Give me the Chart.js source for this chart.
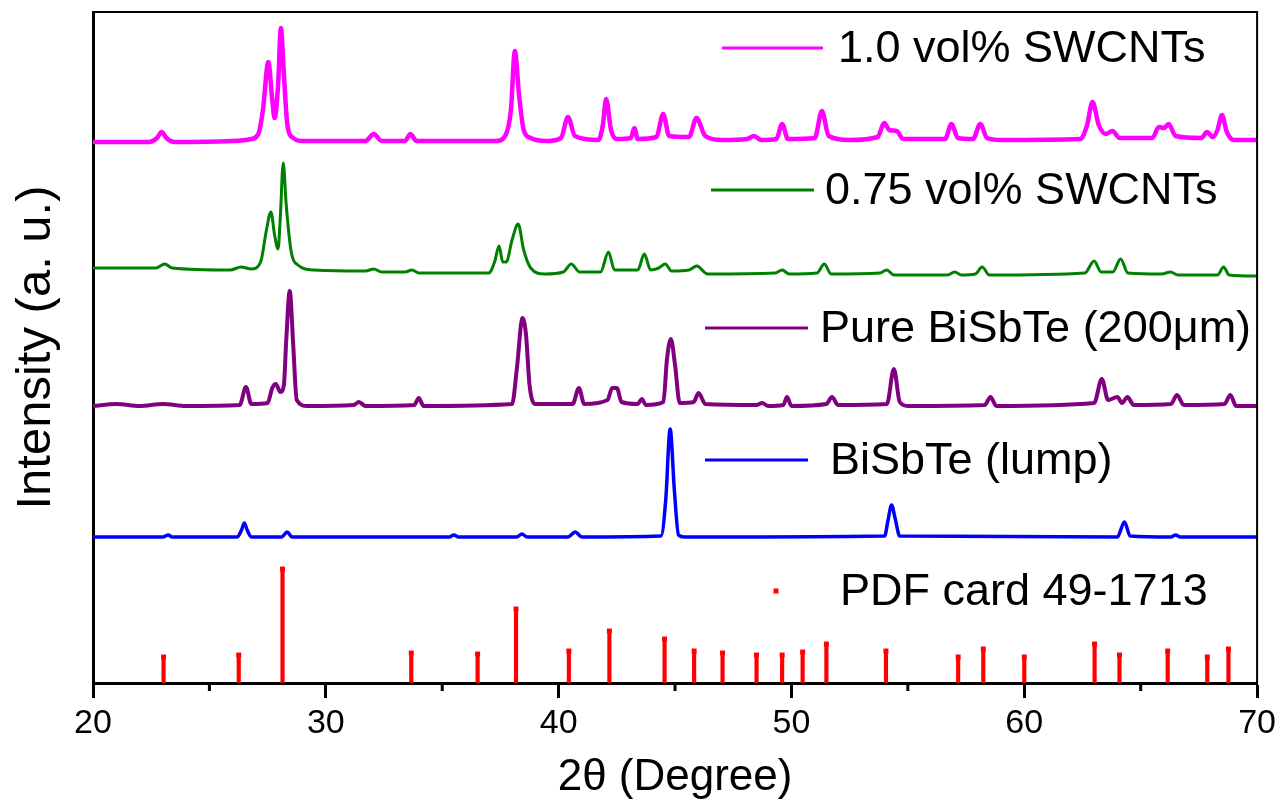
<!DOCTYPE html>
<html lang="en">
<head>
    <meta charset="UTF-8">
    <title>XRD patterns</title>
    <style>
        body {
            margin: 0;
            padding: 0;
            background: #fff;
        }
        #wrap {
            width: 1285px;
            height: 803px;
        }
    </style>
</head>
<body>
    <div id="wrap"><canvas id="xrd" width="1285" height="803"></canvas></div>
    <script src="https://cdn.jsdelivr.net/npm/chart.js"></script>
    <script>
        // 2theta (deg), intensity (a.u., stacked offsets as in the figure)
        const swcnt10 = [
            [20.0, 541], [22.4, 541], [22.75, 545], [22.95, 551], [23.15, 545], [23.5, 541],
            [26.0, 542], [26.8, 544], [27.1, 549], [27.3, 573], [27.53, 621], [27.7, 583],
            [27.8, 565], [27.95, 598], [28.07, 655], [28.2, 608], [28.35, 558], [28.6, 545],
            [29.0, 542], [31.7, 542], [32.06, 549], [32.4, 542], [33.4, 542], [33.63, 549],
            [33.9, 542], [37.3, 542], [37.7, 547], [37.95, 573], [38.12, 632], [38.3, 588],
            [38.5, 553], [38.8, 545], [39.5, 542], [40.1, 545], [40.4, 566], [40.7, 547],
            [41.7, 543], [41.9, 558], [42.04, 584], [42.25, 553], [42.5, 544], [43.1, 545],
            [43.25, 555], [43.4, 544], [44.2, 546], [44.49, 569], [44.75, 547], [45.6, 546],
            [45.92, 565], [46.3, 547], [47.0, 543], [48.1, 544], [48.39, 547], [48.7, 543],
            [49.35, 544], [49.6, 559], [49.85, 544], [51.0, 545], [51.31, 572], [51.6, 547],
            [52.5, 543], [53.7, 546], [53.99, 560], [54.2, 553], [54.52, 552], [54.8, 544],
            [56.6, 544], [56.87, 559], [57.15, 545], [57.8, 544], [58.11, 559], [58.4, 545],
            [59.0, 543], [62.4, 544], [62.7, 558], [62.93, 581], [63.2, 558], [63.5, 549],
            [63.78, 552], [64.1, 545], [65.5, 545], [65.78, 556], [66.0, 555], [66.2, 559],
            [66.5, 547], [67.6, 545], [67.85, 551], [68.1, 546], [68.3, 553], [68.49, 568],
            [68.7, 551], [69.0, 543], [70.0, 543]
        ];
        const swcnt075 = [
            [20.0, 415], [22.7, 415], [23.08, 419], [23.4, 415], [25.9, 413], [26.36, 416],
            [26.8, 414], [27.2, 421], [27.45, 453], [27.64, 471], [27.8, 448], [27.95, 434],
            [28.05, 468], [28.17, 520], [28.3, 478], [28.5, 433], [28.8, 418], [29.5, 413],
            [31.7, 412], [32.06, 414], [32.4, 411], [33.4, 411], [33.7, 413], [34.0, 410],
            [37.0, 410], [37.25, 421], [37.44, 437], [37.6, 421], [37.75, 421], [38.0, 443],
            [38.26, 459], [38.5, 433], [38.8, 415], [39.4, 409], [40.2, 411], [40.54, 419],
            [40.9, 411], [41.8, 411], [42.14, 431], [42.4, 413], [43.4, 413], [43.68, 429],
            [43.95, 413], [44.3, 415], [44.58, 419], [44.85, 412], [45.6, 413], [45.93, 417],
            [46.4, 409], [49.3, 410], [49.6, 413], [49.9, 409], [51.1, 410], [51.41, 419],
            [51.7, 409], [53.8, 410], [54.09, 413], [54.4, 408], [56.7, 408], [57.01, 411],
            [57.3, 408], [57.9, 409], [58.19, 416], [58.5, 408], [62.6, 410], [63.0, 422],
            [63.3, 411], [63.8, 411], [64.14, 424], [64.45, 410], [65.9, 409], [66.28, 411],
            [66.6, 408], [68.3, 408], [68.56, 416], [68.8, 408], [70.0, 407]
        ];
        const pure200 = [
            [20.0, 277], [21.0, 279], [22.0, 277], [23.0, 279], [24.0, 277], [26.3, 278],
            [26.57, 296], [26.8, 279], [27.5, 280], [27.7, 295], [27.85, 299], [28.05, 291],
            [28.2, 298], [28.3, 343], [28.45, 392], [28.6, 338], [28.75, 283], [29.2, 277],
            [31.2, 278], [31.42, 281], [31.7, 277], [33.8, 278], [33.99, 285], [34.2, 277],
            [38.0, 279], [38.2, 313], [38.45, 365], [38.6, 348], [38.75, 298], [39.0, 279],
            [40.6, 279], [40.87, 295], [41.1, 279], [42.1, 283], [42.3, 295], [42.5, 295],
            [42.7, 281], [43.4, 279], [43.57, 284], [43.75, 278], [44.5, 281], [44.65, 323],
            [44.82, 344], [45.0, 318], [45.2, 280], [45.8, 281], [46.01, 290], [46.3, 279],
            [48.5, 278], [48.74, 280], [49.0, 277], [49.65, 278], [49.81, 286], [50.0, 277],
            [51.5, 279], [51.74, 286], [52.0, 278], [54.1, 279], [54.4, 314], [54.65, 281],
            [55.0, 277], [58.3, 278], [58.55, 286], [58.8, 277], [63.0, 280], [63.33, 304],
            [63.6, 283], [64.0, 286], [64.2, 280], [64.43, 286], [64.7, 278], [66.3, 279],
            [66.56, 288], [66.85, 278], [68.6, 279], [68.85, 288], [69.1, 277], [70.0, 277]
        ];
        const lump = [
            [20.0, 146], [23.0, 146], [23.23, 148], [23.4, 146], [26.2, 146], [26.38, 153],
            [26.5, 160], [26.62, 153], [26.8, 146], [28.1, 146], [28.34, 151], [28.55, 146],
            [35.3, 146], [35.5, 148], [35.7, 146], [38.2, 146], [38.42, 149], [38.65, 146],
            [40.4, 146], [40.71, 151], [41.0, 146], [44.4, 147], [44.6, 183], [44.79, 254],
            [44.97, 193], [45.15, 148], [45.4, 146], [54.0, 147], [54.15, 163], [54.3, 178],
            [54.45, 165], [54.65, 147], [64.0, 146], [64.3, 161], [64.55, 147], [66.3, 146],
            [66.5, 148], [66.7, 146], [70.0, 146]
        ];
        // reference card: peak position, relative height
        const pdfPos = [23.03, 26.26, 28.14, 33.67, 36.52, 38.17, 40.44, 42.18, 44.55, 45.82,
            47.04, 48.50, 49.60, 50.48, 51.50, 54.06, 57.16, 58.24, 60.00, 63.02, 64.09, 66.16,
            67.86, 68.77];
        const pdfInt = [26, 28, 114, 30, 29, 74, 32, 52, 44, 32, 30, 28, 28, 31, 39, 32, 26,
            34, 26, 39, 28, 32, 26, 34];

        const labels = ['1.0 vol% SWCNTs', '0.75 vol% SWCNTs', 'Pure BiSbTe (200\u03BCm)',
            'BiSbTe (lump)', 'PDF card 49-1713'];
        const colors = ['#ff00ff', '#008000', '#800080', '#0000ff', '#ff0000'];
        const xMinorTicks = [25, 35, 45, 55, 65];

        const FONT = '"Liberation Sans", Arial, sans-serif';

        // where each legend entry sits (pixels): line start/end, centre y, text x
        const legendLayout = [
            { x1: 722, x2: 823, y: 48, tx: 838 },
            { x1: 711, x2: 814, y: 190, tx: 825 },
            { x1: 705, x2: 808, y: 328, tx: 820 },
            { x1: 705, x2: 808, y: 460, tx: 830 },
            { x1: 776, x2: 776, y: 591, tx: 840 }
        ];

        const toXY = arr => arr.map(p => ({ x: p[0], y: p[1] }));
        const sticks = pdfPos.map((x, i) => ({ x: x, y: pdfInt[i] }));

        const lineSet = (data, i, w) => ({
            type: 'line',
            label: labels[i],
            data: toXY(data),
            borderColor: colors[i],
            borderWidth: w,
            pointRadius: 0,
            cubicInterpolationMode: 'monotone',
            fill: false
        });

        const framePlugin = {
            id: 'frame',
            afterDraw(chart) {
                const { ctx, chartArea: a, scales: { x } } = chart;
                ctx.save();
                ctx.strokeStyle = '#000';
                // top and right edges of the box
                ctx.lineWidth = 2;
                ctx.beginPath();
                ctx.moveTo(a.left, a.top);
                ctx.lineTo(a.right, a.top);
                ctx.lineTo(a.right, a.bottom);
                ctx.stroke();
                // minor ticks
                ctx.lineWidth = 3;
                xMinorTicks.forEach(v => {
                    const px = x.getPixelForValue(v);
                    ctx.beginPath();
                    ctx.moveTo(px, a.bottom);
                    ctx.lineTo(px, a.bottom + 8);
                    ctx.stroke();
                });
                // legend entries
                ctx.font = '45px ' + FONT;
                ctx.textBaseline = 'middle';
                ctx.textAlign = 'left';
                legendLayout.forEach((l, i) => {
                    ctx.strokeStyle = colors[i];
                    ctx.fillStyle = colors[i];
                    if (l.x1 === l.x2) {
                        ctx.fillRect(l.x1 - 2.5, l.y - 2.5, 5, 5);
                    } else {
                        ctx.lineWidth = 3;
                        ctx.beginPath();
                        ctx.moveTo(l.x1, l.y);
                        ctx.lineTo(l.x2, l.y);
                        ctx.stroke();
                    }
                    ctx.fillStyle = '#000';
                    ctx.fillText(labels[i], l.tx, l.y + 2);
                });
                ctx.restore();
            }
        };

        new Chart(document.getElementById('xrd'), {
            type: 'line',
            data: {
                datasets: [
                    lineSet(swcnt10, 0, 4.5),
                    lineSet(swcnt075, 1, 3),
                    lineSet(pure200, 2, 4),
                    lineSet(lump, 3, 3.5),
                    {
                        type: 'bar',
                        label: labels[4],
                        data: sticks,
                        backgroundColor: colors[4],
                        barThickness: 3.5,
                        borderWidth: 0
                    },
                    {
                        type: 'scatter',
                        label: labels[4],
                        data: sticks,
                        pointStyle: 'rect',
                        pointRadius: 3.5,
                        backgroundColor: colors[4],
                        borderColor: colors[4],
                        borderWidth: 0
                    }
                ]
            },
            options: {
                responsive: false,
                animation: false,
                layout: { padding: { top: 12, right: 23, left: 0, bottom: 0 } },
                plugins: {
                    legend: { display: false },
                    tooltip: { enabled: false }
                },
                scales: {
                    x: {
                        type: 'linear',
                        min: 20,
                        max: 70,
                        offset: false,
                        afterFit: s => { s.height = 120; },
                        ticks: {
                            stepSize: 10,
                            color: '#000',
                            font: { family: FONT, size: 34, lineHeight: 1 },
                            padding: 9,
                            maxRotation: 0,
                            autoSkip: false
                        },
                        grid: {
                            offset: false,
                            drawOnChartArea: false,
                            tickLength: 15,
                            tickWidth: 3,
                            tickColor: '#000'
                        },
                        border: { color: '#000', width: 3 },
                        title: {
                            display: true,
                            text: '2\u03B8 (Degree)',
                            color: '#000',
                            font: { family: FONT, size: 44, lineHeight: 1 },
                            padding: { top: 0, bottom: 3 }
                        }
                    },
                    y: {
                        min: 0,
                        max: 671,
                        afterFit: s => { s.width = 93; },
                        ticks: { display: false },
                        grid: { drawOnChartArea: false, drawTicks: false },
                        border: { color: '#000', width: 3 },
                        title: {
                            display: true,
                            text: 'Intensity (a. u.)',
                            color: '#000',
                            font: { family: FONT, size: 49, lineHeight: 1 },
                            padding: { top: 12, bottom: 0 }
                        }
                    }
                }
            },
            plugins: [framePlugin]
        });
    </script>
</body>
</html>
